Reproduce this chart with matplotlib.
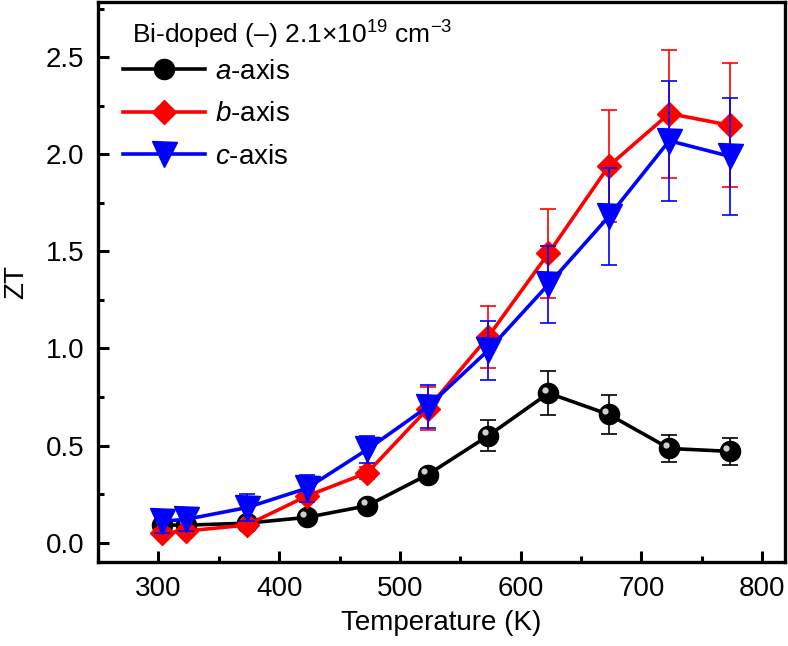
import numpy as np
import matplotlib
matplotlib.use("Agg")
import matplotlib.pyplot as plt
import matplotlib.transforms as mtransforms
from matplotlib.ticker import MultipleLocator, FormatStrFormatter

plt.rcParams["font.family"] = ["Liberation Sans", "DejaVu Sans"]
plt.rcParams["mathtext.fontset"] = "custom"
plt.rcParams["mathtext.rm"] = "Liberation Sans"
plt.rcParams["mathtext.it"] = "Liberation Sans:italic"

# ── data ───────────────────────────────────────────────────────────────
temperature = [303, 323, 373, 423, 473, 523, 573, 623, 673, 723, 773]

zt_a = [0.09, 0.09, 0.10, 0.13, 0.19, 0.35, 0.55, 0.77, 0.66, 0.485, 0.47]
err_a = [0.02, 0.02, 0.02, 0.02, 0.02, 0.03, 0.08, 0.115, 0.10, 0.07, 0.07]

zt_b = [0.05, 0.06, 0.09, 0.24, 0.36, 0.69, 1.06, 1.49, 1.94, 2.21, 2.15]
err_b = [0.02, 0.02, 0.02, 0.03, 0.03, 0.11, 0.16, 0.23, 0.29, 0.33, 0.32]

zt_c = [0.11, 0.12, 0.18, 0.28, 0.48, 0.70, 0.99, 1.33, 1.68, 2.07, 1.99]
err_c = [0.06, 0.06, 0.07, 0.07, 0.07, 0.11, 0.15, 0.20, 0.25, 0.31, 0.30]

legend_title = "Bi-doped (–) 2.1×10$^{19}$ cm$^{-3}$"
labels = ["$\\mathit{a}$-axis", "$\\mathit{b}$-axis", "$\\mathit{c}$-axis"]

# ── figure ─────────────────────────────────────────────────────────────
fig = plt.figure(figsize=(7.88, 6.46), dpi=100)
ax = fig.add_axes([0.1244, 0.130, 0.872, 0.867])

line_kw = dict(linewidth=2.6, elinewidth=1.2, capsize=5.5, capthick=1.2)

ax.errorbar(temperature, zt_a, yerr=err_a, color="black", marker="o",
            markersize=14.5, ecolor="black", label=labels[0], zorder=3, **line_kw)
# highlight on the black spheres
shine = mtransforms.offset_copy(ax.transData, fig=fig, x=-2.5, y=2.5, units="points")
ax.plot(temperature, zt_a, linestyle="none", marker="o", markersize=4.5,
        color="#d0d0d0", markeredgewidth=0, transform=shine, zorder=3.5)

ax.errorbar(temperature, zt_b, yerr=err_b, color="#ff0000", marker="D",
            markersize=12.5, ecolor="#ff0000", label=labels[1], zorder=4, **line_kw)
ax.errorbar(temperature, zt_c, yerr=err_c, color="#0000ff", marker="v",
            markersize=18, ecolor="#0000ff", label=labels[2], zorder=5, **line_kw)

ax.set_xlim(250, 819)
ax.set_ylim(-0.1, 2.785)
ax.xaxis.set_major_locator(MultipleLocator(100))
ax.xaxis.set_minor_locator(MultipleLocator(50))
ax.yaxis.set_major_locator(MultipleLocator(0.5))
ax.yaxis.set_minor_locator(MultipleLocator(0.25))
ax.yaxis.set_major_formatter(FormatStrFormatter("%.1f"))

ax.tick_params(which="both", direction="in", top=False, right=False,
               width=2.2, labelsize=20)
ax.tick_params(which="major", length=8, pad=10)
ax.tick_params(which="minor", length=4.5)
for sp in ax.spines.values():
    sp.set_linewidth(2.4)

ax.set_xlabel("Temperature (K)", fontsize=20, labelpad=6)
ax.set_ylabel("ZT", fontsize=20, labelpad=12)

# legend title as plain text, legend entries below it
ax.text(0.049, 0.941, legend_title, transform=ax.transAxes, fontsize=19,
        ha="left", va="center")

handles, labs = ax.get_legend_handles_labels()
handles = [h[0] for h in handles]
leg = ax.legend(handles, labs, loc="upper left", bbox_to_anchor=(0.036, 0.898),
                frameon=False, fontsize=20, handlelength=2.95, labelspacing=0.59,
                handletextpad=0.36, borderpad=0, borderaxespad=0)

fig.savefig("out.png", dpi=100)
